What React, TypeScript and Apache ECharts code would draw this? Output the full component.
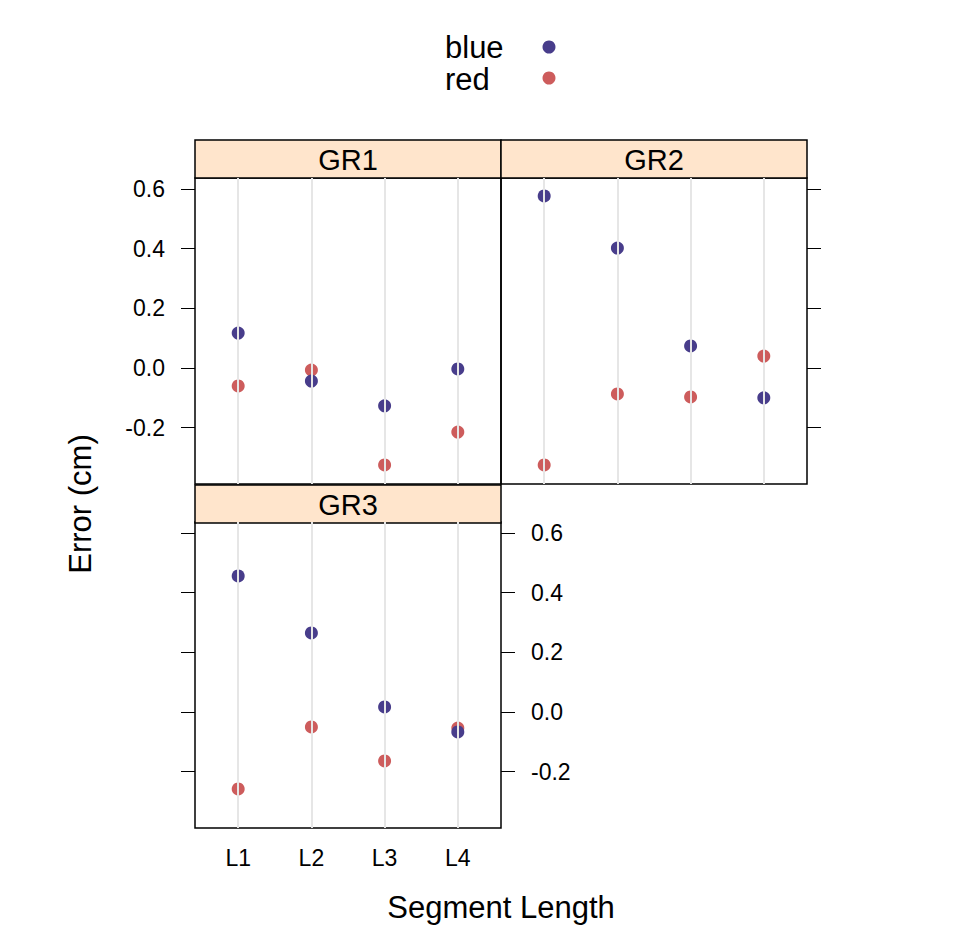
import React, { useEffect, useRef } from "react";
import * as echarts from "echarts";

const categories = ["L1", "L2", "L3", "L4"];
const panels = ["GR1", "GR2", "GR3"];
const blueValues = [
  [0.117, -0.044, -0.127, -0.003],
  [0.577, 0.402, 0.074, -0.1],
  [0.456, 0.265, 0.017, -0.067],
];
const redValues = [
  [-0.06, -0.007, -0.325, -0.215],
  [-0.325, -0.087, -0.097, 0.04],
  [-0.258, -0.05, -0.164, -0.054],
];
const yTicks = [-0.2, 0, 0.2, 0.4, 0.6];
const BLUE = "#483D8B";
const RED = "#CD5C5C";
const FONT = "Liberation Sans, Arial, sans-serif";

export default function App() {
  const ref = useRef<HTMLDivElement>(null);
  useEffect(() => {
    const chart = echarts.init(ref.current!, null, { renderer: "svg" });
    const grids = [
      { left: 195, top: 178, width: 306, height: 306 },
      { left: 501, top: 178, width: 306, height: 306 },
      { left: 195, top: 522, width: 306, height: 306 },
    ];
    const xPos = categories.map((_, i) => i + 1);
    const xAxes = grids.map((_, g) => ({
      type: "value",
      gridIndex: g,
      min: 0.41,
      max: 4.59,
      show: g === 2,
      axisLine: { show: false },
      splitLine: { show: false },
      axisTick: { show: true, customValues: xPos, length: 14, lineStyle: { color: "#000" } },
      axisLabel: {
        customValues: xPos,
        formatter: (v: number) => categories[Math.round(v) - 1] ?? "",
        margin: 18,
        fontSize: 23,
        color: "#000",
        fontFamily: FONT,
      },
    }));
    const mkY = (g: number, pos: string, labels: boolean) => ({
      type: "value",
      gridIndex: g,
      position: pos,
      min: -0.389,
      max: 0.637,
      axisLine: { show: false },
      splitLine: { show: false },
      axisTick: { show: true, customValues: yTicks, length: 14, lineStyle: { color: "#000" } },
      axisLabel: {
        show: labels,
        customValues: yTicks,
        formatter: (v: number) => v.toFixed(1),
        margin: 30,
        fontSize: 23,
        color: "#000",
        fontFamily: FONT,
      },
    });
    const yAxes = [mkY(0, "left", true), mkY(1, "right", false), mkY(2, "left", false), mkY(2, "right", true)];
    const yIdx = [0, 1, 2];
    const series: any[] = [];
    panels.forEach((_, g) => {
      series.push({
        type: "scatter",
        xAxisIndex: g,
        yAxisIndex: yIdx[g],
        symbolSize: 13,
        itemStyle: { color: RED, opacity: 1 },
        data: redValues[g].map((v, i) => [i + 1, v]),
        markLine: {
          silent: true,
          symbol: "none",
          label: { show: false },
          lineStyle: { color: "#e6e6e6", type: "solid", width: 2 },
          data: xPos.map((x) => ({ xAxis: x })),
        },
        z: 2,
      });
      series.push({
        type: "scatter",
        xAxisIndex: g,
        yAxisIndex: yIdx[g],
        symbolSize: 13,
        itemStyle: { color: BLUE, opacity: 1 },
        data: blueValues[g].map((v, i) => [i + 1, v]),
        z: 3,
      });
    });
    const stripTops = [140, 140, 485];
    const graphic: any[] = [];
    grids.forEach((gr, g) => {
      graphic.push({
        type: "rect",
        shape: { x: gr.left, y: stripTops[g], width: gr.width, height: 38 },
        style: { fill: "#ffe5cc", stroke: "#000", lineWidth: 1.5 },
      });
      graphic.push({
        type: "text",
        x: gr.left + gr.width / 2,
        y: stripTops[g] + 20,
        style: { text: panels[g], fontSize: 29, fontFamily: FONT, fill: "#000", align: "center", verticalAlign: "middle" },
      });
    });
    graphic.push(
      { type: "text", x: 445, y: 47, style: { text: "blue", fontSize: 31, fontFamily: FONT, fill: "#000", verticalAlign: "middle" } },
      { type: "text", x: 445, y: 79, style: { text: "red", fontSize: 31, fontFamily: FONT, fill: "#000", verticalAlign: "middle" } },
      { type: "circle", shape: { cx: 549, cy: 47, r: 6.5 }, style: { fill: BLUE } },
      { type: "circle", shape: { cx: 549, cy: 78, r: 6.5 }, style: { fill: RED } },
      {
        type: "text", x: 80, y: 504, rotation: Math.PI / 2,
        style: { text: "Error (cm)", fontSize: 31, fontFamily: FONT, fill: "#000", align: "center", verticalAlign: "middle" },
      },
      {
        type: "text", x: 501, y: 907,
        style: { text: "Segment Length", fontSize: 31, fontFamily: FONT, fill: "#000", align: "center", verticalAlign: "middle" },
      }
    );
    chart.setOption({
      animation: false,
      backgroundColor: "#fff",
      grid: grids.map((g) => ({ ...g, show: true, borderColor: "#000", borderWidth: 1.5, backgroundColor: "transparent" })),
      xAxis: xAxes,
      yAxis: yAxes,
      series,
      graphic,
    });
    return () => chart.dispose();
  }, []);
  return <div ref={ref} style={{ position: "absolute", left: 0, top: 0, width: 979, height: 950 }} />;
}
